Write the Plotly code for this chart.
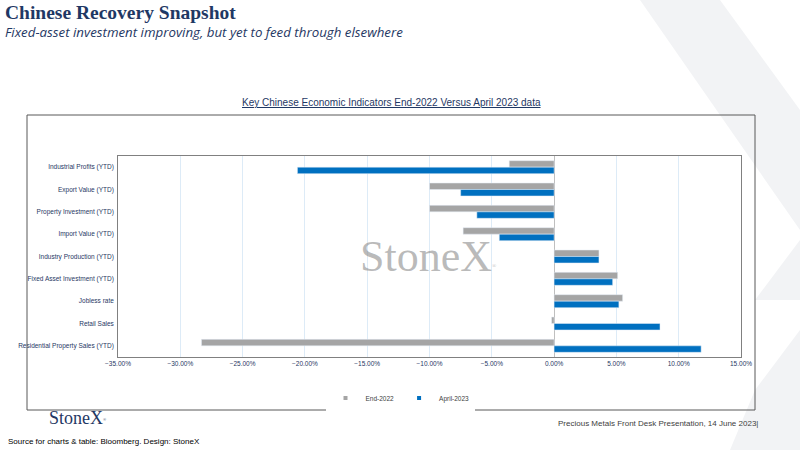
import plotly.graph_objects as go

categories = ["Industrial Profits (YTD)", "Export Value (YTD)", "Property Investment (YTD)",
              "Import Value (YTD)", "Industry Production (YTD)", "Fixed Asset Investment (YTD)",
              "Jobless rate", "Retail Sales", "Residential Property Sales (YTD)"]
end_2022 = [-3.6, -10.0, -10.0, -7.3, 3.6, 5.1, 5.5, -0.2, -28.3]
april_2023 = [-20.6, -7.5, -6.2, -4.4, 3.6, 4.7, 5.2, 8.5, 11.8]
x_ticks = [-35, -30, -25, -20, -15, -10, -5, 0, 5, 10, 15]
series_names = ["End-2022", "April-2023"]
series_colors = ["#A5A5A5", "#0070C0"]

W, H = 800, 450
def px(x): return x / W
def py(y): return 1 - y / H

fig = go.Figure()
for name, vals, col in zip(series_names, [end_2022, april_2023], series_colors):
    fig.add_bar(y=categories, x=[v / 100 for v in vals], orientation="h", name=name,
                marker_color=col, showlegend=False)
for name, col in zip(series_names, series_colors):
    fig.add_scatter(x=[None], y=[None], mode="markers", name=name,
                    marker=dict(symbol="square", size=4, color=col))

fig.update_layout(
    width=W, height=H, margin=dict(l=0, r=0, t=0, b=0, autoexpand=False),
    paper_bgcolor="white", plot_bgcolor="white",
    barmode="group", bargap=0.42, bargroupgap=0,
    font=dict(family="Liberation Sans Narrow, Liberation Sans", size=7, color="#1F3864"),
    xaxis=dict(domain=[px(118), px(741)], range=[-0.35, 0.15], tickvals=[t / 100 for t in x_ticks],
               tickformat=".2%", showgrid=True, gridcolor="#DDEBF7", zeroline=True,
               zerolinecolor="#BFBFBF", zerolinewidth=1, showline=True, linecolor="#808080",
               mirror=True, ticks="", automargin=False, tickfont=dict(size=6.5, color="#1F3864")),
    yaxis=dict(domain=[py(357), py(156)], autorange="reversed", showline=True, linecolor="#808080",
               mirror=True, showgrid=False, ticksuffix=" ", automargin=False,
               tickfont=dict(size=6.5, color="#1F3864")),
    legend=dict(orientation="h", x=0.5, xanchor="center", y=py(398), yanchor="middle",
                font=dict(size=6.5, color="#404040"), itemwidth=30, tracegroupgap=0),
    showlegend=True,
)

# background decorative X
fig.add_shape(type="path", xref="paper", yref="paper", layer="below",
              path=f"M {px(640)} {py(0)} L {px(720)} {py(0)} L {px(800)} {py(110)} L {px(800)} {py(230)} Z",
              fillcolor="#F2F3F5", line_width=0)
fig.add_shape(type="path", xref="paper", yref="paper", layer="below",
              path=f"M {px(755)} {py(390)} L {px(800)} {py(330)} L {px(800)} {py(450)} L {px(730)} {py(450)} Z",
              fillcolor="#F2F3F5", line_width=0)
fig.add_shape(type="path", xref="paper", yref="paper", layer="below",
              path=f"M {px(755)} {py(300)} L {px(800)} {py(240)} L {px(800)} {py(300)} Z",
              fillcolor="#F2F3F5", line_width=0)
# outer chart frame
fig.add_shape(type="rect", xref="paper", yref="paper", x0=px(27), x1=px(755), y0=py(410), y1=py(115),
              line=dict(color="#595959", width=1), fillcolor="rgba(255,255,255,0)")

fig.add_annotation(text="<b>Chinese Recovery Snapshot</b>", xref="paper", yref="paper", x=px(3), y=py(13),
                   xanchor="left", yanchor="middle", showarrow=False,
                   font=dict(family="Liberation Serif", size=19.5, color="#1F3864"))
fig.add_annotation(text="<i>Fixed-asset investment improving, but yet to feed through elsewhere</i>",
                   xref="paper", yref="paper", x=px(3), y=py(32), xanchor="left", yanchor="middle",
                   showarrow=False, font=dict(family="Open Sans", size=13.3, color="#1F3864"))
fig.add_annotation(text="<u>Key Chinese Economic Indicators End-2022 Versus April 2023 data</u>",
                   xref="paper", yref="paper", x=px(391), y=py(102), xanchor="center", yanchor="middle",
                   showarrow=False, font=dict(family="Liberation Sans", size=10, color="#1F3864"))
fig.add_annotation(text="StoneX<span style='font-size:8px'><sup>®</sup></span>", xref="paper", yref="paper",
                   x=px(428), y=py(256), xanchor="center", yanchor="middle", showarrow=False,
                   font=dict(family="Liberation Serif", size=44, color="rgba(140,140,140,0.6)"))
fig.add_annotation(text="StoneX<span style='font-size:6px'><sup>®</sup></span>", xref="paper", yref="paper",
                   x=px(47), y=py(418), xanchor="left", yanchor="middle", showarrow=False,
                   font=dict(family="Liberation Serif", size=18, color="#1F3864"))
fig.add_annotation(text="Source for charts & table: Bloomberg. Design: StoneX", xref="paper", yref="paper",
                   x=px(6), y=py(441), xanchor="left", yanchor="middle", showarrow=False,
                   font=dict(family="Liberation Sans", size=8, color="#000000"))
fig.add_annotation(text="Precious Metals Front Desk Presentation, 14 June 2023|", xref="paper", yref="paper",
                   x=px(760), y=py(423), xanchor="right", yanchor="middle", showarrow=False,
                   font=dict(family="Liberation Sans", size=8, color="#404040"))

fig.write_html("out.html", config={"displayModeBar": False},
               post_script="document.body.style.margin='0';document.body.style.overflow='hidden';")
